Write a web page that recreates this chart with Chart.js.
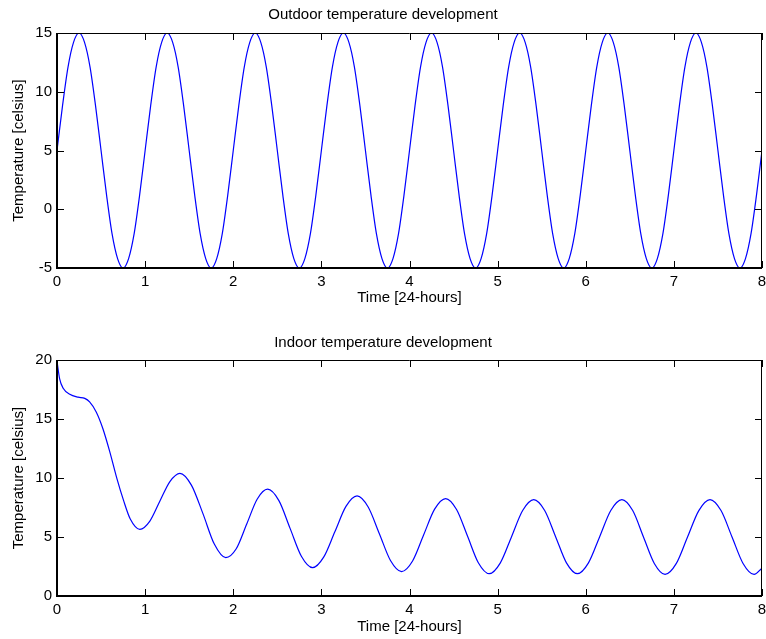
<!DOCTYPE html>
<html>
<head>
<meta charset="utf-8">
<script src="https://cdn.jsdelivr.net/npm/chart.js@4/dist/chart.umd.min.js"></script>
<style>
  body { margin: 0; background: #fff; }
  canvas { position: absolute; left: 0; }
  #outdoor { top: 0; }
  #indoor { top: 320px; }
</style>
</head>
<body>
<canvas id="outdoor" width="766" height="320"></canvas>
<canvas id="indoor" width="766" height="319"></canvas>
<script>
// outdoor temperature, read every 1.5 hours (days)
const outdoorTime = [
  0, 0.0625, 0.125, 0.1875, 0.25, 0.3125, 0.375, 0.4375, 0.5, 0.5625, 0.625, 0.6875, 0.75, 0.8125, 0.875, 0.9375,
  1, 1.0625, 1.125, 1.1875, 1.25, 1.3125, 1.375, 1.4375, 1.5, 1.5625, 1.625, 1.6875, 1.75, 1.8125, 1.875, 1.9375,
  2, 2.0625, 2.125, 2.1875, 2.25, 2.3125, 2.375, 2.4375, 2.5, 2.5625, 2.625, 2.6875, 2.75, 2.8125, 2.875, 2.9375,
  3, 3.0625, 3.125, 3.1875, 3.25, 3.3125, 3.375, 3.4375, 3.5, 3.5625, 3.625, 3.6875, 3.75, 3.8125, 3.875, 3.9375,
  4, 4.0625, 4.125, 4.1875, 4.25, 4.3125, 4.375, 4.4375, 4.5, 4.5625, 4.625, 4.6875, 4.75, 4.8125, 4.875, 4.9375,
  5, 5.0625, 5.125, 5.1875, 5.25, 5.3125, 5.375, 5.4375, 5.5, 5.5625, 5.625, 5.6875, 5.75, 5.8125, 5.875, 5.9375,
  6, 6.0625, 6.125, 6.1875, 6.25, 6.3125, 6.375, 6.4375, 6.5, 6.5625, 6.625, 6.6875, 6.75, 6.8125, 6.875, 6.9375,
  7, 7.0625, 7.125, 7.1875, 7.25, 7.3125, 7.375, 7.4375, 7.5, 7.5625, 7.625, 7.6875, 7.75, 7.8125, 7.875, 7.9375,
  8];
const outdoorTemp = [
  5, 8.8, 12.1, 14.2, 15, 14.2, 12.1, 8.8, 5, 1.2, -2.1, -4.2, -5, -4.2, -2.1, 1.2,
  5, 8.8, 12.1, 14.2, 15, 14.2, 12.1, 8.8, 5, 1.2, -2.1, -4.2, -5, -4.2, -2.1, 1.2,
  5, 8.8, 12.1, 14.2, 15, 14.2, 12.1, 8.8, 5, 1.2, -2.1, -4.2, -5, -4.2, -2.1, 1.2,
  5, 8.8, 12.1, 14.2, 15, 14.2, 12.1, 8.8, 5, 1.2, -2.1, -4.2, -5, -4.2, -2.1, 1.2,
  5, 8.8, 12.1, 14.2, 15, 14.2, 12.1, 8.8, 5, 1.2, -2.1, -4.2, -5, -4.2, -2.1, 1.2,
  5, 8.8, 12.1, 14.2, 15, 14.2, 12.1, 8.8, 5, 1.2, -2.1, -4.2, -5, -4.2, -2.1, 1.2,
  5, 8.8, 12.1, 14.2, 15, 14.2, 12.1, 8.8, 5, 1.2, -2.1, -4.2, -5, -4.2, -2.1, 1.2,
  5, 8.8, 12.1, 14.2, 15, 14.2, 12.1, 8.8, 5, 1.2, -2.1, -4.2, -5, -4.2, -2.1, 1.2,
  5];

// indoor temperature
const indoorTime = [0, 0.03, 0.07, 0.145, 0.24, 0.315, 0.37, 0.445, 0.52, 0.6, 0.68, 0.755, 0.83, 0.94,
  1.054, 1.168, 1.281, 1.395, 1.525, 1.655, 1.785, 1.915,
  2.034, 2.153, 2.271, 2.39, 2.518, 2.645, 2.773, 2.9,
  3.026, 3.153, 3.279, 3.405, 3.531, 3.658, 3.784, 3.91,
  4.035, 4.16, 4.285, 4.41, 4.534, 4.658, 4.781, 4.905,
  5.031, 5.158, 5.284, 5.41, 5.534, 5.658, 5.781, 5.905,
  6.031, 6.158, 6.284, 6.41, 6.533, 6.655, 6.778, 6.9,
  7.028, 7.155, 7.283, 7.41, 7.535, 7.66, 7.785, 7.91, 8];
const indoorTemp = [19.9, 18.4, 17.6, 17.1, 16.85, 16.75, 16.45, 15.6, 14.2, 12.2, 9.95, 8.1, 6.55, 5.65,
  6.35, 8.05, 9.7, 10.4, 9.4, 7.0, 4.4, 3.25,
  4.0, 6.1, 8.2, 9.05, 8.08, 5.73, 3.37, 2.4,
  3.29, 5.44, 7.59, 8.48, 7.54, 5.28, 3.01, 2.07,
  2.97, 5.17, 7.36, 8.26, 7.33, 5.08, 2.82, 1.89,
  2.81, 5.03, 7.25, 8.17, 7.25, 5.03, 2.81, 1.89,
  2.81, 5.03, 7.25, 8.17, 7.24, 5.0, 2.76, 1.83,
  2.76, 5.0, 7.24, 8.17, 7.24, 5.0, 2.76, 1.83, 2.36];

const xTickLabels = [0, 1, 2, 3, 4, 5, 6, 7, 8];

Chart.defaults.font.family = '"Liberation Sans", Arial, sans-serif';
Chart.defaults.font.size = 15;
Chart.defaults.color = '#000';

// matlab style box with inward ticks
const boxPlugin = {
  id: 'box',
  afterDatasetsDraw(chart) {
    const ctx = chart.ctx;
    const a = chart.chartArea;
    const x = chart.scales.x, y = chart.scales.y;
    const L = Math.round(a.left), R = Math.round(a.right), T = Math.round(a.top), B = Math.round(a.bottom);
    ctx.save();
    ctx.strokeStyle = '#000';
    ctx.lineWidth = 1;
    ctx.beginPath();
    x.ticks.forEach(t => {
      const px = Math.round(x.getPixelForValue(t.value)) + 0.5;
      ctx.moveTo(px, B); ctx.lineTo(px, B - 7);
      ctx.moveTo(px, T); ctx.lineTo(px, T + 7);
    });
    y.ticks.forEach(t => {
      const py = Math.round(y.getPixelForValue(t.value)) + 0.5;
      ctx.moveTo(L, py); ctx.lineTo(L + 7, py);
      ctx.moveTo(R, py); ctx.lineTo(R - 7, py);
    });
    ctx.moveTo(L, T + 0.5); ctx.lineTo(R, T + 0.5);
    ctx.moveTo(R - 0.5, T); ctx.lineTo(R - 0.5, B);
    ctx.stroke();
    ctx.lineWidth = 2;
    ctx.beginPath();
    ctx.moveTo(L, T); ctx.lineTo(L, B); ctx.lineTo(R, B);
    ctx.stroke();
    ctx.restore();
  }
};

function makeChart(id, title, times, temps, ymin, ymax, titlePad, xHeight, xTitlePad) {
  return new Chart(document.getElementById(id), {
    type: 'line',
    data: {
      datasets: [{
        data: times.map((t, i) => ({x: t, y: temps[i]})),
        borderColor: '#0000ff',
        borderWidth: 1.2,
        pointRadius: 0,
        fill: false,
        cubicInterpolationMode: 'monotone'
      }]
    },
    options: {
      responsive: false,
      animation: false,
      events: [],
      layout: {padding: 0},
      plugins: {
        legend: {display: false},
        tooltip: {enabled: false},
        title: {
          display: true,
          text: title,
          font: {size: 15, weight: 'normal'},
          color: '#000',
          padding: titlePad
        }
      },
      scales: {
        x: {
          type: 'linear',
          min: 0, max: 8,
          afterBuildTicks(s) { s.ticks = xTickLabels.map(v => ({value: v})); },
          ticks: {padding: 5, maxRotation: 0},
          grid: {display: false, drawTicks: false},
          border: {display: false},
          title: {display: true, text: 'Time [24-hours]', padding: {top: 0, bottom: xTitlePad}},
          afterFit(s) { s.height = xHeight; s.paddingLeft = 0; s.paddingRight = 4; }
        },
        y: {
          min: ymin, max: ymax,
          ticks: {stepSize: 5, padding: 5},
          grid: {display: false, drawTicks: false},
          border: {display: false},
          title: {display: true, text: 'Temperature [celsius]', padding: {top: 10, bottom: 0}},
          afterFit(s) { s.width = 57; }
        }
      }
    },
    plugins: [boxPlugin]
  });
}

makeChart('outdoor', 'Outdoor temperature development', outdoorTime, outdoorTemp, -5, 15,
  {top: 6, bottom: 9}, 52, 13);
makeChart('indoor', 'Indoor temperature development', indoorTime, indoorTemp, 0, 20,
  {top: 14, bottom: 8}, 43, 3);
</script>
</body>
</html>
